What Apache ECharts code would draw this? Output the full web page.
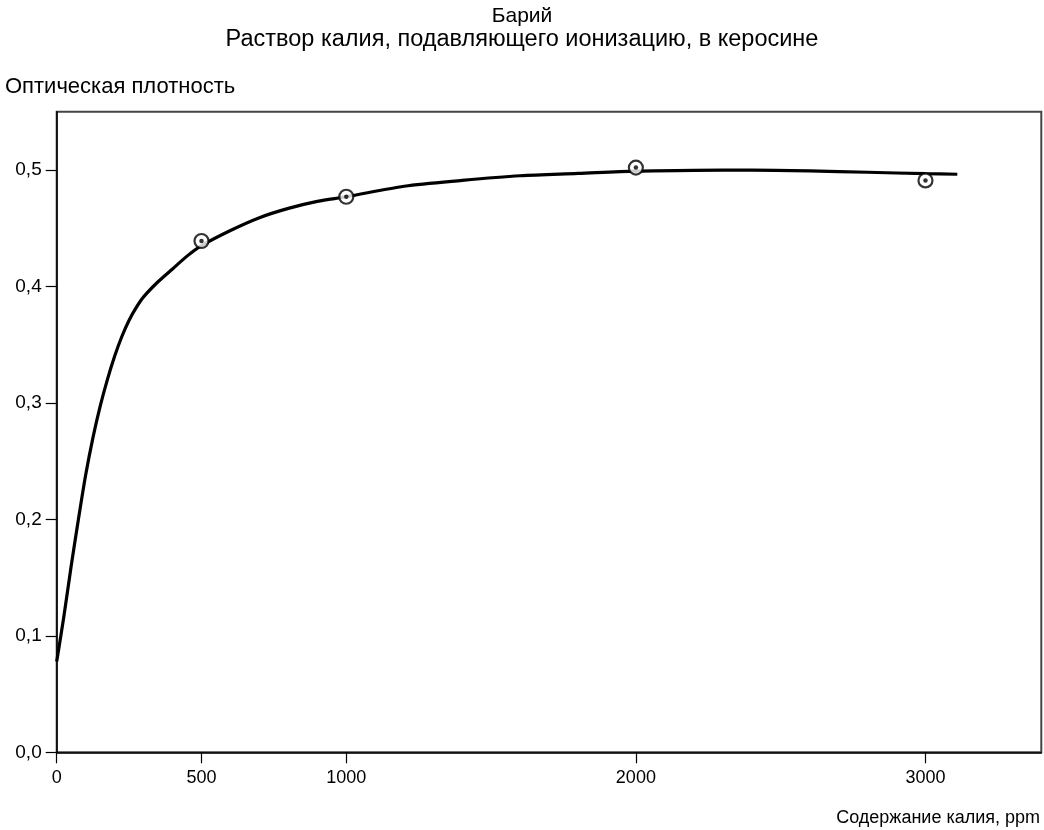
<!DOCTYPE html>
<html>
<head>
<meta charset="utf-8">
<script src="https://cdn.jsdelivr.net/npm/echarts@6.0.0/dist/echarts.min.js"></script>
<style>
html,body{margin:0;padding:0;background:#fff;}
#chart{width:1044px;height:830px;}
</style>
</head>
<body>
<div id="chart"></div>
<script>
// Measured points (potassium content, ppm -> optical density)
const pointX = [500, 1000, 2000, 3000];
const pointY = [0.439, 0.477, 0.502, 0.491];

// Fitted curve
const curveX = [0, 25, 50, 75, 100, 125, 150, 175, 200, 225, 250, 275, 300, 350, 400, 450, 500, 600, 700, 800, 900, 1000, 1200, 1400, 1600, 1800, 2000, 2200, 2400, 2600, 2800, 3000, 3110];
const curveY = [0.078, 0.117, 0.160, 0.200, 0.238, 0.270, 0.297, 0.320, 0.340, 0.357, 0.371, 0.382, 0.391, 0.404, 0.415, 0.426, 0.435, 0.448, 0.459, 0.467, 0.473, 0.477, 0.486, 0.491, 0.495, 0.497, 0.499, 0.4997, 0.4998, 0.4992, 0.498, 0.4968, 0.4963];

const xTicks = [0, 500, 1000, 2000, 3000];
const yTicks = [0, 0.1, 0.2, 0.3, 0.4, 0.5];

const titleText = 'Барий';
const subtitleText = 'Раствор калия, подавляющего ионизацию, в керосине';
const yName = 'Оптическая плотность';
const xName = 'Содержание калия, ppm';

const FONT = '"Liberation Sans", Arial, sans-serif';
const chart = echarts.init(document.getElementById('chart'), null, {renderer: 'canvas'});

const curveData = curveX.map((x, i) => [x, curveY[i]]);
const pointData = pointX.map((x, i) => [x, pointY[i]]);

chart.setOption({
  animation: false,
  backgroundColor: '#fff',
  grid: {
    left: 56.7, right: 2.7, top: 111.7, bottom: 77.7,
    show: true, borderColor: '#444', borderWidth: 2, backgroundColor: 'transparent'
  },
  xAxis: {
    type: 'value', min: 0, max: 3400,
    axisLine: {show: true, onZero: false, lineStyle: {color: '#000', width: 1.5}},
    axisTick: {show: true, customValues: xTicks, length: 11, lineStyle: {color: '#000', width: 1.2}},
    axisLabel: {customValues: xTicks, color: '#000', fontSize: 18, fontFamily: FONT, margin: 17,
      formatter: v => String(v)},
    splitLine: {show: false}
  },
  yAxis: {
    type: 'value', min: 0, max: 0.55,
    axisLine: {show: true, onZero: false, lineStyle: {color: '#000', width: 1.5}},
    axisTick: {show: true, customValues: yTicks, length: 11, lineStyle: {color: '#000', width: 1.2}},
    axisLabel: {customValues: yTicks, color: '#000', fontSize: 19, fontFamily: FONT, margin: 15,
      formatter: v => v.toFixed(1).replace('.', ',')},
    splitLine: {show: false}
  },
  graphic: [
    {type: 'text', x: 522, y: 16, style: {text: titleText, font: '21px ' + FONT, fill: '#000', textAlign: 'center', textVerticalAlign: 'middle'}},
    {type: 'text', x: 522, y: 40, style: {text: subtitleText, font: '23.5px ' + FONT, fill: '#000', textAlign: 'center', textVerticalAlign: 'middle'}},
    {type: 'text', x: 5, y: 87, style: {text: yName, font: '22px ' + FONT, fill: '#000', textAlign: 'left', textVerticalAlign: 'middle'}},
    {type: 'text', x: 1040, y: 818, style: {text: xName, font: '18px ' + FONT, fill: '#000', textAlign: 'right', textVerticalAlign: 'middle'}}
  ],
  series: [
    {
      type: 'line', data: curveData, smooth: 0.3, showSymbol: false,
      lineStyle: {color: '#000', width: 3.2}, z: 2
    },
    {
      type: 'scatter', data: pointData, symbol: 'circle', symbolSize: 14,
      itemStyle: {color: '#fff', borderColor: '#000', borderWidth: 2.2}, z: 3
    },
    {
      type: 'scatter', data: pointData, symbol: 'circle', symbolSize: 4.5,
      itemStyle: {color: '#000'}, z: 4
    }
  ]
});
</script>
</body>
</html>
